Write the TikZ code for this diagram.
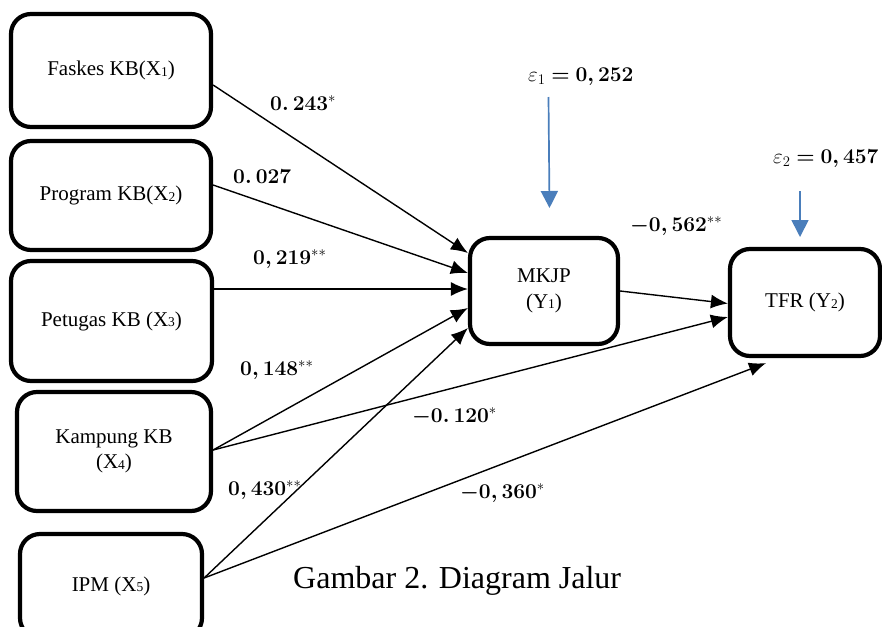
\RequirePackage{fix-cm}
\documentclass[tikz,border=0pt]{standalone}
\usepackage{amsmath}
\usepackage[no-math]{fontspec}
\newfontfamily\serifrm{Liberation Serif}
\usetikzlibrary{arrows.meta}

\definecolor{errblue}{RGB}{74,126,187}

% small lowered index digit, as in X1, Y2
\newcommand\ix[1]{\raisebox{-0.6pt}{\fontsize{13.5}{13.5}\selectfont #1}}
\newcommand\boxfont{\fontsize{21}{25.5}\selectfont\serifrm}
\newcommand\capfont{\fontsize{32}{38}\selectfont\serifrm}

\begin{document}
\begin{tikzpicture}[x=1pt,y=-1pt,
  box/.style={draw, line width=4.2pt, rounded corners=20pt, align=center,
              font=\boxfont, inner sep=0pt},
  path/.style={line width=1.4pt, -{Latex[length=17pt,width=14pt]}},
  err/.style={errblue, line width=1.7pt, -{Triangle[length=17pt,width=17pt]}},
  coef/.style={anchor=base west, inner sep=0pt, font=\fontsize{21}{25}\selectfont},
]
\useasboundingbox (0,0) rectangle (882,626);

% exogenous variables
\node[box, minimum width=200pt, minimum height=113pt] (x1) at (111,70.5) {Faskes KB(X\ix{1})};
\node[box, minimum width=200pt, minimum height=109pt] (x2) at (111,195.5) {Program KB(X\ix{2})};
\node[box, minimum width=201pt, minimum height=120pt] (x3) at (111.5,321) {Petugas KB (X\ix{3})};
\node[box, minimum width=194pt, minimum height=119pt] (x4) at (114,451.5) {Kampung KB\\(X\ix{4})};
\node[box, minimum width=182pt, minimum height=104pt] (x5) at (111,586) {IPM (X\ix{5})};

% endogenous variables
\node[box, minimum width=148pt, minimum height=106pt] (y1) at (544,291) {MKJP\\(Y\ix{1})};
\node[box, minimum width=150pt, minimum height=107pt] (y2) at (805,302.5) {TFR (Y\ix{2})};

% paths
\draw[path] ([yshift=-14.5pt]x1.east) -- ([yshift=38pt]y1.west);
\draw[path] ([yshift=10.5pt]x2.east) -- ([yshift=18pt]y1.west);
\draw[path] ([yshift=32pt]x3.east) -- ([yshift=2pt]y1.west);
\draw[path] ([yshift=1.5pt]x4.east) -- ([yshift=-17pt]y1.west);
\draw[path] ([yshift=8pt]x5.east) -- ([yshift=-37pt]y1.west);
\draw[path] ([yshift=1.5pt]x4.east) -- ([yshift=-14.5pt]y2.west);
\draw[path] (y1.east) -- ([yshift=-1pt]y2.west);
\draw[path] ([yshift=8pt]x5.east) -- ([xshift=-39pt,yshift=-5pt]y2.south);

% error terms
\coordinate (e1a) at (548.5,97);
\coordinate (e1b) at (549.5,208);
\coordinate (e2a) at (800,191);
\coordinate (e2b) at (800,237);
\draw[err] (e1a) -- (e1b);
\draw[err] (e2a) -- (e2b);
\node[coef] (e1) at (528,81) {$\varepsilon_1 \mathrel{\boldsymbol{=}} \boldsymbol{0,252}$};
\node[coef] (e2) at (773,163) {$\varepsilon_2 \mathrel{\boldsymbol{=}} \boldsymbol{0,457}$};

% path coefficients
\node[coef] (c1) at (270,110) {$\boldsymbol{0.\,243}^{*}$};
\node[coef] (c2) at (233,183) {$\boldsymbol{0.\,027}$};
\node[coef] (c3) at (253,264) {$\boldsymbol{0,219}^{**}$};
\node[coef] (c4) at (240,375) {$\boldsymbol{0,148}^{**}$};
\node[coef] (c5) at (412,422) {$\boldsymbol{-0.\,120}^{*}$};
\node[coef] (c6) at (228,495) {$\boldsymbol{0,430}^{**}$};
\node[coef] (c7) at (460,498) {$\boldsymbol{-0,360}^{*}$};
\node[coef] (c8) at (630,231) {$\boldsymbol{-0,562}^{**}$};

% caption
\node[anchor=base west, inner sep=0pt, font=\capfont] (cap) at (293,588) {Gambar 2. Diagram Jalur};
\end{tikzpicture}
\end{document}
